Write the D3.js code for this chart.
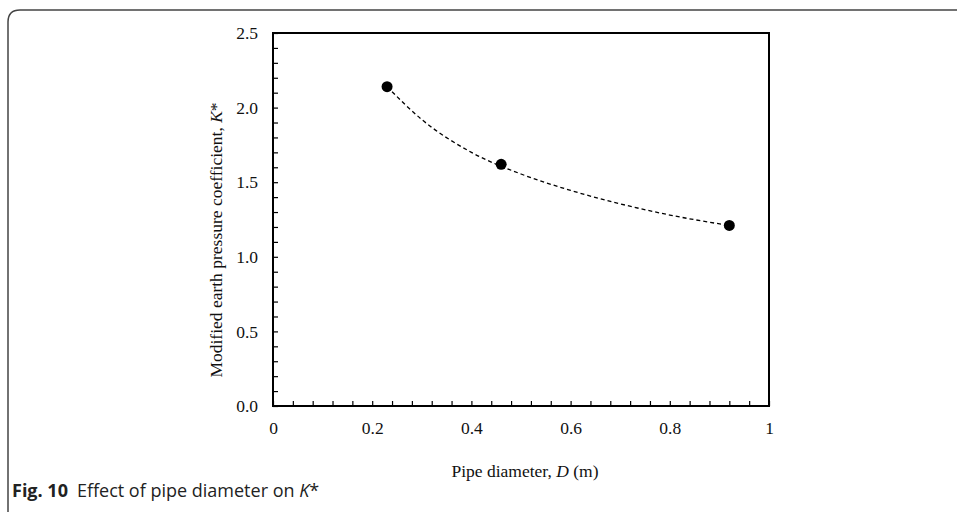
<!DOCTYPE html>
<html>
<head>
<meta charset="utf-8">
<script src="https://cdn.jsdelivr.net/npm/d3@7"></script>
<style>
  body { margin: 0; background: #fff; }
  svg { display: block; }
</style>
</head>
<body>
<svg id="chart" width="957" height="512"></svg>
<script>
// measured points
const diameters = [0.23, 0.46, 0.92]
const kValues = [2.14, 1.62, 1.21]

// dashed trend line
const trendX = [0.23, 0.3, 0.4, 0.5, 0.6, 0.7, 0.8, 0.92]
const trendY = [2.14, 1.92, 1.70, 1.555, 1.445, 1.355, 1.28, 1.21]

const xTicks = [0, 0.2, 0.4, 0.6, 0.8, 1]
const yTicks = [0, 0.5, 1.0, 1.5, 2.0, 2.5]

const svg = d3.select('#chart')

const plotL = 273, plotR = 769, plotT = 33, plotB = 406

// figure frame with rounded corner
svg.append('path')
    .attr('d', 'M8,512 L8,22 Q8,10 20,10 L957,10')
    .attr('fill', 'none')
    .attr('stroke', '#444')
    .attr('stroke-width', 1.5)

const x = d3.scaleLinear().domain([0, 1]).range([plotL, plotR])
const y = d3.scaleLinear().domain([0, 2.5]).range([plotB, plotT])

const serif = '"Liberation Serif", "Times New Roman", serif'

// minor ticks inside
const xMinor = d3.range(0, 1.0001, 0.04)
const yMinor = d3.range(0, 2.5001, 0.1)

svg.append('g')
    .attr('transform', `translate(0,${plotB})`)
    .call(d3.axisTop(x).tickValues(xMinor).tickSize(5).tickFormat(''))
    .call(g => g.select('.domain').remove())
    .selectAll('line').attr('stroke', '#000').attr('stroke-width', 1.2)

svg.append('g')
    .attr('transform', `translate(${plotL},0)`)
    .call(d3.axisRight(y).tickValues(yMinor).tickSize(5).tickFormat(''))
    .call(g => g.select('.domain').remove())
    .selectAll('line').attr('stroke', '#000').attr('stroke-width', 1.2)

// tick labels
svg.append('g')
    .attr('transform', `translate(0,${plotB})`)
    .call(d3.axisBottom(x).tickValues(xTicks).tickSize(0).tickPadding(16)
        .tickFormat(d => d === 0 ? '0' : d === 1 ? '1' : d3.format('.1f')(d)))
    .call(g => g.select('.domain').remove())
    .selectAll('text')
    .attr('font-family', serif).attr('font-size', 17.5).attr('fill', '#111')

svg.append('g')
    .attr('transform', `translate(${plotL},0)`)
    .call(d3.axisLeft(y).tickValues(yTicks).tickSize(0).tickPadding(15)
        .tickFormat(d3.format('.1f')))
    .call(g => g.select('.domain').remove())
    .selectAll('text')
    .attr('font-family', serif).attr('font-size', 17.5).attr('fill', '#111')

// plot box
svg.append('rect')
    .attr('x', plotL).attr('y', plotT)
    .attr('width', plotR - plotL).attr('height', plotB - plotT)
    .attr('fill', 'none').attr('stroke', '#000').attr('stroke-width', 2)

// trend line
const trend = trendX.map((d, i) => [d, trendY[i]])
svg.append('path')
    .datum(trend)
    .attr('d', d3.line().x(d => x(d[0])).y(d => y(d[1])).curve(d3.curveMonotoneX))
    .attr('fill', 'none')
    .attr('stroke', '#000')
    .attr('stroke-width', 1.3)
    .attr('stroke-dasharray', '4,3')

// points
svg.append('g')
    .selectAll('circle')
    .data(diameters)
    .enter()
    .append('circle')
    .attr('cx', d => x(d))
    .attr('cy', (d, i) => y(kValues[i]))
    .attr('r', 5.5)
    .attr('fill', '#000')

// axis titles
const xt = svg.append('text')
    .attr('x', (plotL + plotR) / 2 + 4).attr('y', 477)
    .attr('text-anchor', 'middle')
    .attr('font-family', serif).attr('font-size', 17.5).attr('fill', '#111')
xt.append('tspan').text('Pipe diameter, ')
xt.append('tspan').attr('font-style', 'italic').text('D')
xt.append('tspan').text(' (m)')

const yt = svg.append('text')
    .attr('transform', 'translate(222,240) rotate(-90)')
    .attr('text-anchor', 'middle')
    .attr('font-family', serif).attr('font-size', 17.5).attr('fill', '#111')
yt.append('tspan').text('Modified earth pressure coefficient, ')
yt.append('tspan').attr('font-style', 'italic').text('K')
yt.append('tspan').text('*')

// caption
const cap = svg.append('text')
    .attr('x', 12).attr('y', 497)
    .attr('font-family', '"Open Sans", "Noto Sans", sans-serif')
    .attr('font-size', 18).attr('fill', '#222')
cap.append('tspan').attr('font-weight', 'bold').text('Fig. 10')
cap.append('tspan').attr('dx', 9).text('Effect of pipe diameter on ')
cap.append('tspan').attr('font-style', 'italic').text('K')
cap.append('tspan').text('*')
</script>
</body>
</html>
